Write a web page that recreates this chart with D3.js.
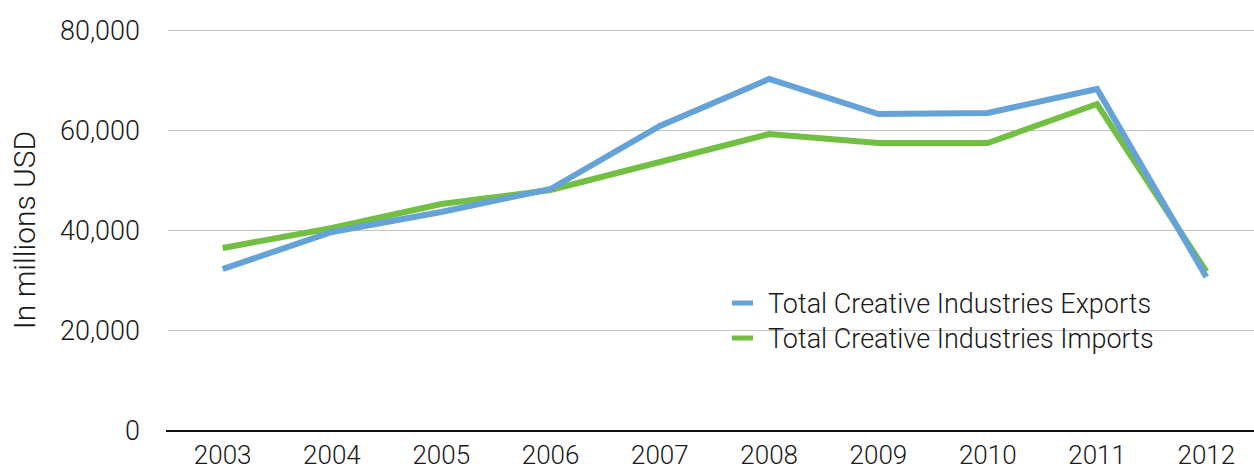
<!DOCTYPE html>
<html><head><meta charset="utf-8">
<script src="https://cdn.jsdelivr.net/npm/d3@7"></script>
<style>body{margin:0;background:#fff}svg{display:block}text{font-family:Roboto,"Liberation Sans",sans-serif;font-weight:300;fill:#1a1a1a}</style>
</head><body><svg id="c" width="1254" height="466"></svg>
<script>
const years = ["2003","2004","2005","2006","2007","2008","2009","2010","2011","2012"];
const exportsVals = [32300,39700,43700,48300,60900,70300,63300,63500,68300,30700];
const importsVals = [36500,40500,45300,48100,53700,59300,57500,57500,65300,31800];
const yTicks = [0,20000,40000,60000,80000];
const seriesNames = ["Total Creative Industries Exports","Total Creative Industries Imports"];
const colors = ["#64a2d8","#72bf44"];

const svg = d3.select("#c");
const x = d3.scaleBand().domain(years).range([168,1261]);
const y = d3.scaleLinear().domain([0,80000]).range([430.5,30.5]);

svg.append("g").selectAll("line").data(yTicks.filter(d=>d>0)).join("line")
  .attr("x1",168).attr("x2",1254).attr("y1",d=>y(d)).attr("y2",d=>y(d))
  .attr("stroke","#c4c4c4").attr("stroke-width",1);

const fmt = d3.format(",");
svg.append("g").selectAll("text").data(yTicks).join("text")
  .attr("x",140).attr("y",d=>y(d)).attr("dy","0.36em").attr("text-anchor","end")
  .attr("font-size",27).text(d=>fmt(d));

svg.append("line").attr("x1",166).attr("x2",1254).attr("y1",431).attr("y2",431)
  .attr("stroke","#111").attr("stroke-width",2);

svg.append("g").selectAll("text").data(years).join("text")
  .attr("x",d=>x(d)+x.bandwidth()/2).attr("y",464).attr("text-anchor","middle")
  .attr("font-size",26).text(d=>d);

svg.append("text").attr("transform","translate(35,230) rotate(-90)").attr("text-anchor","middle")
  .attr("font-size",30).text("In millions USD");

const line = d3.line().x((d,i)=>x(years[i])+x.bandwidth()/2).y(d=>y(d));
svg.append("path").datum(importsVals).attr("d",line).attr("fill","none")
  .attr("stroke",colors[1]).attr("stroke-width",6).attr("stroke-linejoin","miter");
svg.append("path").datum(exportsVals).attr("d",line).attr("fill","none")
  .attr("stroke",colors[0]).attr("stroke-width",6).attr("stroke-linejoin","miter");

const lg = svg.append("g");
seriesNames.forEach((n,i)=>{
  const yy = 303 + i*35;
  lg.append("line").attr("x1",732).attr("x2",753).attr("y1",yy).attr("y2",yy)
    .attr("stroke",colors[i]).attr("stroke-width",5);
  lg.append("text").attr("x",768).attr("y",yy).attr("dy","0.36em").attr("font-size",27).text(n);
});
</script></body></html>
